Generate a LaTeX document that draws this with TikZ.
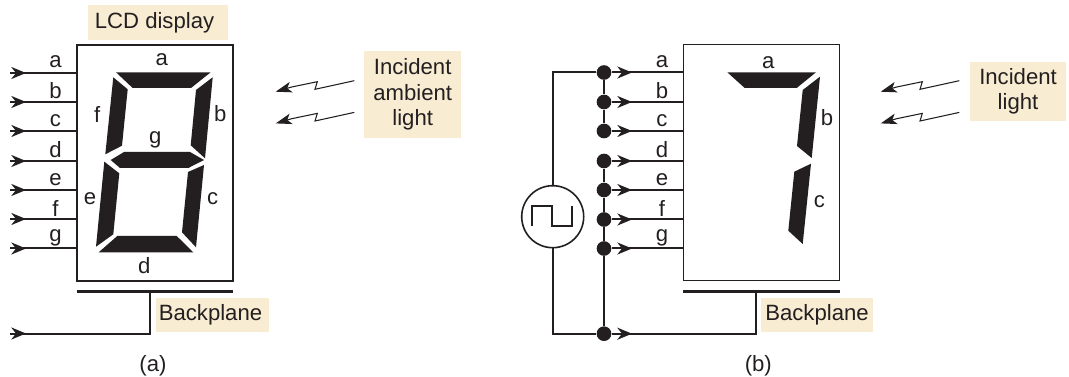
\documentclass[tikz,border=0pt]{standalone}
\usepackage{fontspec}
\setmainfont{Liberation Sans}
\usetikzlibrary{arrows.meta}
\definecolor{lcdInk}{HTML}{231F20}
\definecolor{lcdCream}{HTML}{F8ECD2}
\tikzset{
  lcdbox/.style={rectangle, draw=lcdInk, line width=1.2pt, fill=white, inner sep=0pt,
    minimum width=117pt, minimum height=177pt},
  tagbox/.style={rectangle, fill=lcdCream, text=lcdInk, inner sep=0pt, align=center,
    font=\fontsize{16.6}{19}\selectfont},
  seglabel/.style={text=lcdInk, inner sep=0pt, font=\fontsize{16.6}{19}\selectfont},
  wire/.style={draw=lcdInk, line width=1.5pt},
  wirearrow/.style={draw=lcdInk, line width=1.5pt, -{Stealth[length=11pt, width=9pt, inset=3.5pt]}},
  plane/.style={draw=lcdInk, line width=2.25pt},
  junction/.style={circle, fill=lcdInk, minimum size=11pt, inner sep=0pt},
  source/.style={circle, draw=lcdInk, line width=1.2pt, fill=white, minimum size=46.5pt, inner sep=0pt},
  segment/.style={fill=lcdInk},
  lightarrow/.style={draw=lcdInk, line width=0.8pt, -{Stealth[length=12pt, width=8pt, inset=3pt]}}
}
\begin{document}
\begin{tikzpicture}[x=0.75pt, y=-0.75pt]
  \useasboundingbox (0,0) rectangle (1069,377);
  % part (a)
  \node[tagbox, minimum width=105pt, minimum height=26pt] (tagLcd) at (158,22.5) {LCD display\hspace{5.2pt}};
  \node[lcdbox] (lcdA) at (155,163) {};
  \foreach \n/\y in {a/73,b/102,c/131,d/161,e/190,f/219,g/248.5} {
    \coordinate (inA\n) at (10,\y);
    \coordinate (tipA\n) at (26,\y);
    \draw[wire] (inA\n) -- (inA\n -| lcdA.west);
    \draw[wirearrow] (inA\n) -- (tipA\n);
  }
  \node[seglabel] (wlAa) at (55.5,62) {a};
  \node[seglabel] (wlAb) at (55.5,91) {b};
  \node[seglabel] (wlAc) at (55.5,121) {c};
  \node[seglabel] (wlAd) at (55.5,149.5) {d};
  \node[seglabel] (wlAe) at (55.5,180) {e};
  \node[seglabel] (wlAf) at (55.5,208) {f};
  \node[seglabel] (wlAg) at (55.5,238) {g};
  % all seven segments
  \fill[segment] (116,72.3) -- (210.7,72.3) -- (191,88) -- (132.7,88) -- cycle;
  \fill[segment] (113.3,77.3) -- (127.7,89.3) -- (122,145.7) -- (105.3,154.3) -- cycle;
  \fill[segment] (212.7,77.3) -- (196,90) -- (190.7,145.3) -- (205,158.3) -- cycle;
  \fill[segment] (110.7,160) -- (124,152) -- (190,152) -- (204,160) -- (188.3,168) -- (120,168) -- cycle;
  \fill[segment] (104.3,161.7) -- (119.3,173.3) -- (113.3,234.3) -- (96,246.7) -- cycle;
  \fill[segment] (204,165) -- (188,172) -- (182,232.3) -- (196,247.3) -- cycle;
  \fill[segment] (117.3,236) -- (176.7,236) -- (193.3,252.3) -- (98.7,252.3) -- cycle;
  \node[seglabel] (slAa) at (161.7,60) {a};
  \node[seglabel] (slAf) at (97.3,114) {f};
  \node[seglabel] (slAb) at (220.3,114) {b};
  \node[seglabel] (slAg) at (155.3,140) {g};
  \node[seglabel] (slAe) at (90,199) {e};
  \node[seglabel] (slAc) at (212.7,198.7) {c};
  \node[seglabel] (slAd) at (144.3,266) {d};
  % backplane (a)
  \coordinate (barAl) at (77,291);
  \coordinate (barAr) at (233,291);
  \coordinate (stemA) at (150,291);
  \coordinate (bpA) at (10,333.5);
  \draw[plane] (barAl) -- (barAr);
  \draw[wire] (stemA) |- (bpA);
  \draw[wirearrow] (bpA) -- +(16,0);
  \node[tagbox, minimum width=84.5pt, minimum height=26pt] (tagBpA) at (212.3,315) {Backplane\hspace{2.7pt}};
  \node[tagbox, minimum width=72.5pt, minimum height=65pt] (tagAmb) at (412.7,94.3) {Incident\\ambient\\light};
  \coordinate (rayA1) at (354.3,80.7);
  \coordinate (rayA2) at (354.3,112.4);
  \foreach \r in {rayA1,rayA2}
    \draw[lightarrow] (\r) -- ++(-39.3,8.6) -- ++(2.3,-7.6) -- ++(-25.6,5.3) -- ++(-16,4.7);
  \node[seglabel] (capA) at (153,366) {(a)};
  % part (b)
  \node[lcdbox] (lcdB) at (761.5,162.7) {};
  \foreach \n/\y in {a/72.5,b/102,c/131,d/161,e/190,f/219.5,g/248.5} {
    \node[junction] (dot\n) at (604,\y) {};
    \coordinate (tipB\n) at (632,\y);
    \draw[wire] (dot\n) -- (dot\n -| lcdB.west);
    \draw[wirearrow] (dot\n) -- (tipB\n);
  }
  \node[junction] (dotBp) at (604,333.7) {};
  \draw[wire] (dota) -- (dotb);
  \draw[wire] (dotb) -- (dotc);
  \draw[wire] (dotd) -- (dote);
  \draw[wire] (dote) -- (dotf);
  \draw[wire] (dotf) -- (dotg);
  \draw[wire] (dotg) -- (dotBp);
  \node[source] (src) at (552.7,216.7) {};
  \draw[wire] (src.north) |- (dota);
  \draw[wire] (src.south) |- (dotBp);
  \draw[draw=lcdInk, line width=1.5pt] (532,225.7) -- (532,205.7) -- (552.3,205.7) -- (552.3,225.7) -- (572.3,225.7) -- (572.3,205.7);
  \coordinate (barBl) at (683,291.3);
  \coordinate (barBr) at (840,291.3);
  \coordinate (stemB) at (756,291.3);
  \draw[plane] (barBl) -- (barBr);
  \draw[wire] (stemB) |- (dotBp);
  \coordinate (tipBp) at (632,333.7);
  \draw[wirearrow] (dotBp) -- (tipBp);
  \node[seglabel] (wlBa) at (662,62) {a};
  \node[seglabel] (wlBb) at (662,91) {b};
  \node[seglabel] (wlBc) at (662,121) {c};
  \node[seglabel] (wlBd) at (662,149.5) {d};
  \node[seglabel] (wlBe) at (662,180) {e};
  \node[seglabel] (wlBf) at (662,208) {f};
  \node[seglabel] (wlBg) at (662,238) {g};
  % only a, b, c are dark
  \fill[segment] (727.3,72.3) -- (816,72.3) -- (796.7,88) -- (744.7,88) -- cycle;
  \fill[segment] (820,76.7) -- (802.7,90) -- (797,146) -- (811.7,158) -- cycle;
  \fill[segment] (811,163.7) -- (794.3,171.7) -- (788.3,230.7) -- (802.7,244) -- cycle;
  \node[seglabel] (slBa) at (768.3,62.5) {a};
  \node[seglabel] (slBb) at (827,117.5) {b};
  \node[seglabel] (slBc) at (819.5,202) {c};
  \node[tagbox, minimum width=84.5pt, minimum height=26pt] (tagBpB) at (817,315) {Backplane};
  \node[tagbox, minimum width=72pt, minimum height=44pt] (tagInc) at (1018,91.5) {Incident\\light};
  \coordinate (rayB1) at (959.3,80.7);
  \coordinate (rayB2) at (959.3,112.4);
  \foreach \r in {rayB1,rayB2}
    \draw[lightarrow] (\r) -- ++(-39.3,8.6) -- ++(2.3,-7.6) -- ++(-25.6,5.3) -- ++(-16,4.7);
  \node[seglabel] (capB) at (758.3,365.5) {(b)};
\end{tikzpicture}
\end{document}
